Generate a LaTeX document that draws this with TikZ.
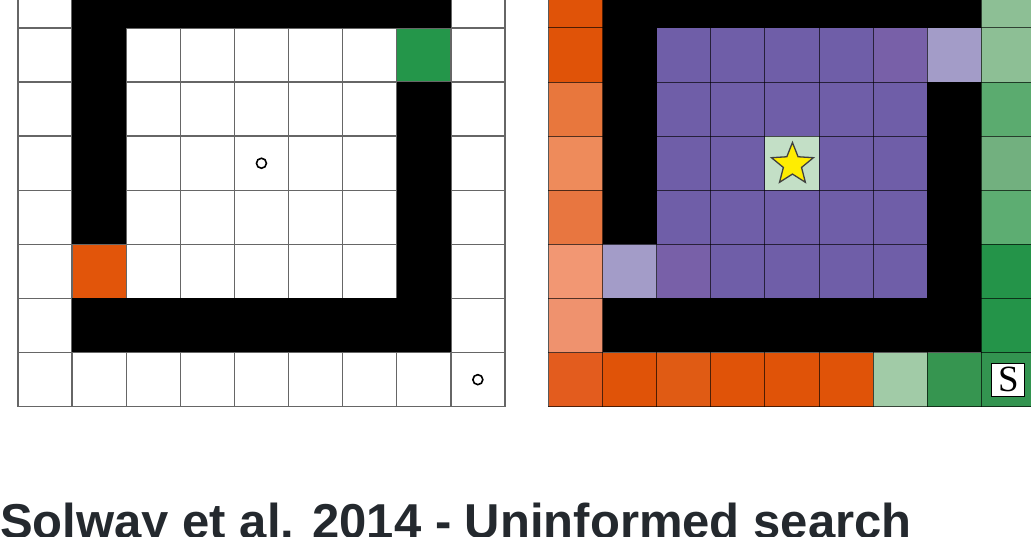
\documentclass[tikz,border=0pt]{standalone}
\usepackage{fontspec}
\setmainfont{Liberation Serif}
\newfontfamily\titlefont{Liberation Sans}
\usetikzlibrary{shapes.geometric}
\definecolor{lgreen}{HTML}{24964A}
\definecolor{lorange}{HTML}{E2550A}
\definecolor{ora}{HTML}{E05308}
\definecolor{orb}{HTML}{E8773D}
\definecolor{orc}{HTML}{EE8B5B}
\definecolor{ord}{HTML}{E87640}
\definecolor{ore}{HTML}{F29773}
\definecolor{orf}{HTML}{EF926E}
\definecolor{org}{HTML}{E35C1E}
\definecolor{orh}{HTML}{E05B14}
\definecolor{pura}{HTML}{6F5EA8}
\definecolor{purb}{HTML}{7860A8}
\definecolor{purl}{HTML}{A39CC8}
\definecolor{gra}{HTML}{8DBF95}
\definecolor{grb}{HTML}{5BAB6F}
\definecolor{grc}{HTML}{72B07F}
\definecolor{grd}{HTML}{5DAD72}
\definecolor{gre}{HTML}{249449}
\definecolor{grf}{HTML}{A1CBA7}
\definecolor{grg}{HTML}{369550}
\definecolor{grh}{HTML}{339450}
\definecolor{starcell}{HTML}{C3DFC6}
\definecolor{titlecol}{HTML}{24292E}
\tikzset{
  lgrid/.style={draw=black!60, line width=1.4pt},
  rgrid/.style={draw=black, draw opacity=0.65, line width=1pt},
  wall/.style={fill=black},
  marker/.style={circle, draw=black, line width=1.6pt, minimum size=10pt, inner sep=0pt},
  goalstar/.style={star, star points=5, star point ratio=2.3, fill=yellow!95!orange, draw=black!75, line width=1.3pt, minimum size=44pt, inner sep=0pt},
  startbox/.style={draw=black, line width=0.8pt, fill=white, minimum size=33pt, inner sep=0pt, font=\fontsize{37}{40}\selectfont},
  titletext/.style={anchor=base west, inner sep=0pt, text=titlecol, font=\titlefont\bfseries\fontsize{49}{58}\selectfont}
}
\newcommand\cellLeft[3]{\fill[#3] ({18+#1*54.1},{-26.1+#2*54.1}) rectangle ++(54.1,54.1);}
\newcommand\cellRight[3]{\fill[#3] ({548.5+#1*54.1},{-26.1+#2*54.1}) rectangle ++(54.1,54.1);}
\begin{document}
\begin{tikzpicture}[x=1pt,y=-1pt]
\useasboundingbox (0,0) rectangle (1031,537);
\clip (0,0) rectangle (1031,537);
\fill[white] (0,0) rectangle (1031,537);

% ---------- left grid ----------
\cellLeft{7}{1}{lgreen}
\cellLeft{1}{5}{lorange}
\foreach \i in {0,...,9} \draw[lgrid] ({18+\i*54.1},-30) -- ({18+\i*54.1},406.7);
\foreach \j in {1,...,8} \draw[lgrid] (17.3,{-26.1+\j*54.1}) -- (505.6,{-26.1+\j*54.1});
\fill[wall] (72.1,-30) rectangle (450.8,28);
\fill[wall] (72.1,28) rectangle (126.2,244.4);
\fill[wall] (396.7,82.1) rectangle (450.8,352.5);
\fill[wall] (72.1,298.4) rectangle (450.8,352.5);
\node[marker] (m1) at (261.45,163.25) {};
\node[marker] (m2) at (477.85,379.65) {};

% ---------- right grid ----------
% left column (orange)
\cellRight{0}{0}{ora}
\cellRight{0}{1}{ora}
\cellRight{0}{2}{orb}
\cellRight{0}{3}{orc}
\cellRight{0}{4}{ord}
\cellRight{0}{5}{ore}
\cellRight{0}{6}{orf}
\cellRight{0}{7}{org}
% bottom row
\cellRight{1}{7}{ora}
\cellRight{2}{7}{orh}
\cellRight{3}{7}{ora}
\cellRight{4}{7}{ora}
\cellRight{5}{7}{ora}
\cellRight{6}{7}{grf}
\cellRight{7}{7}{grg}
\cellRight{8}{7}{grh}
% right column (green)
\cellRight{8}{0}{gra}
\cellRight{8}{1}{gra}
\cellRight{8}{2}{grb}
\cellRight{8}{3}{grc}
\cellRight{8}{4}{grd}
\cellRight{8}{5}{gre}
\cellRight{8}{6}{gre}
% interior (purple)
\foreach \c in {2,...,6} {\foreach \r in {1,...,5} {\cellRight{\c}{\r}{pura}}}
\cellRight{6}{1}{purb}
\cellRight{2}{5}{purb}
\cellRight{7}{1}{purl}
\cellRight{1}{5}{purl}
\cellRight{4}{3}{starcell}
\foreach \i in {0,...,9} \draw[rgrid] ({548.5+\i*54.1},-30) -- ({548.5+\i*54.1},406.7);
\foreach \j in {1,...,8} \draw[rgrid] (548,{-26.1+\j*54.1}) -- (1040,{-26.1+\j*54.1});
\fill[wall] (602.6,-30) rectangle (981.3,28);
\fill[wall] (602.6,28) rectangle (656.7,244.4);
\fill[wall] (927.2,82.1) rectangle (981.3,352.5);
\fill[wall] (602.6,298.4) rectangle (981.3,352.5);
\node[goalstar] (goal) at (792.45,164.5) {};
\node[startbox] (start) at (1008.3,379.7) {S};

% ---------- title ----------
\node[titletext] (title) at (0,538) {Solway et al. 2014 - Uninformed search};
\end{tikzpicture}
\end{document}
